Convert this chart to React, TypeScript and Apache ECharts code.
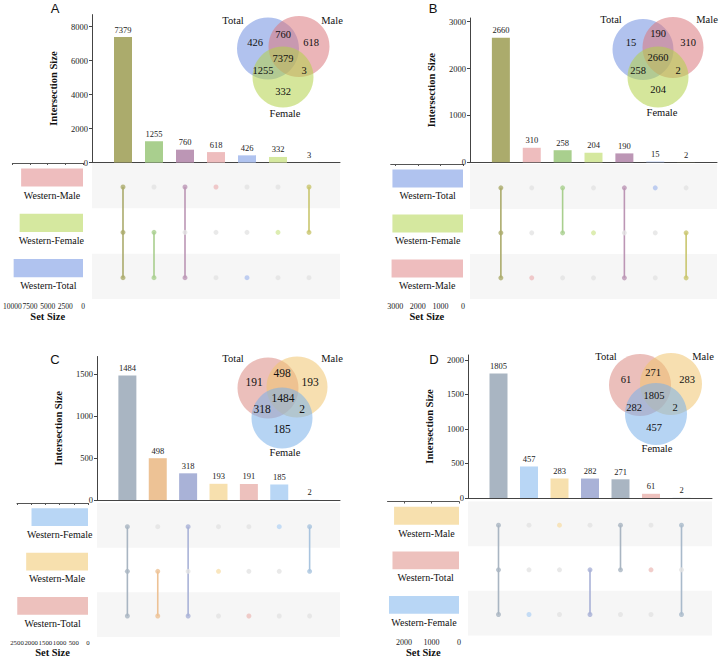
import React, { useEffect, useRef } from "react";
import * as echarts from "echarts";

// ---------------- Data ----------------
const setsA = ["Western-Male", "Western-Female", "Western-Total"];
const valuesA = [7379, 1255, 760, 618, 426, 332, 3];
const membersA = [[0, 1, 2], [1, 2], [0, 2], [0], [2], [1], [0, 1]];
const barTicksA = [0, 2000, 4000, 6000, 8000];
const setTicksA = [0, 2500, 5000, 7500, 10000];

const setsB = ["Western-Total", "Western-Female", "Western-Male"];
const valuesB = [2660, 310, 258, 204, 190, 15, 2];
const membersB = [[0, 1, 2], [2], [0, 1], [1], [0, 2], [0], [1, 2]];
const barTicksB = [0, 1000, 2000, 3000];
const setTicksB = [0, 1000, 2000, 3000];

const setsC = ["Western-Female", "Western-Male", "Western-Total"];
const valuesC = [1484, 498, 318, 193, 191, 185, 2];
const membersC = [[0, 1, 2], [1, 2], [0, 2], [1], [2], [0], [0, 1]];
const barTicksC = [0, 500, 1000, 1500];
const setTicksC = [0, 500, 1000, 1500, 2000, 2500];

const setsD = ["Western-Male", "Western-Total", "Western-Female"];
const valuesD = [1805, 457, 283, 282, 271, 61, 2];
const membersD = [[0, 1, 2], [2], [0], [1, 2], [0, 1], [1], [0, 2]];
const barTicksD = [0, 500, 1000, 1500, 2000];
const setTicksD = [0, 1000, 2000];

// ---------------- Styles ----------------
const colorsA = ["#abab6c", "#a9cf8e", "#bc96b5", "#eebdbe", "#b0c3ef", "#d5e89f", "#c9c66e"];
const setColorsA = ["#eebdbe", "#d5e89f", "#b0c3ef"];
const colorsB = ["#abab6c", "#eebdbe", "#a9cf8e", "#d5e89f", "#bc96b5", "#b0c3ef", "#c9c66e"];
const setColorsB = ["#b0c3ef", "#d5e89f", "#eebdbe"];
const colorsC = ["#a9b5c2", "#edc295", "#a9b2d7", "#f7e0ae", "#edc1bd", "#b8d6f5", "#a9c4df"];
const setColorsC = ["#b8d6f5", "#f7e0ae", "#edc1bd"];
const colorsD = ["#a9b5c2", "#b8d6f5", "#f7e0ae", "#a9b2d7", "#a9b5c2", "#edc1bd", "#a9bacb"];
const setColorsD = ["#f7e0ae", "#edc1bd", "#b8d6f5"];

const vennFillAB: Record<string, string> = {
  Total: "rgba(113,144,224,0.55)",
  Male: "rgba(219,120,126,0.55)",
  Female: "rgba(179,210,73,0.55)",
};
const vennFillCD: Record<string, string> = {
  Total: "rgba(219,139,131,0.55)",
  Male: "rgba(241,197,111,0.55)",
  Female: "rgba(122,177,233,0.55)",
};

const SERIF = '"Liberation Serif", "DejaVu Serif", serif';
const SANS = '"Liberation Sans", Arial, sans-serif';

const panels = [
  { sets: setsA, values: valuesA, members: membersA, colors: colorsA, setColors: setColorsA, barTicks: barTicksA, setTicks: setTicksA },
  { sets: setsB, values: valuesB, members: membersB, colors: colorsB, setColors: setColorsB, barTicks: barTicksB, setTicks: setTicksB },
  { sets: setsC, values: valuesC, members: membersC, colors: colorsC, setColors: setColorsC, barTicks: barTicksC, setTicks: setTicksC },
  { sets: setsD, values: valuesD, members: membersD, colors: colorsD, setColors: setColorsD, barTicks: barTicksD, setTicks: setTicksD },
];

// ---------------- Layout ----------------
const layouts = [
  {
    letter: "A", lx: 55, ly: 8,
    bar: { left: 92, top: 14.6, width: 248, height: 148 }, barMax: 8700,
    mat: { left: 92, top: 163, width: 248, height: 136 },
    set: { left: 10, top: 163, width: 73, height: 136 }, setMax: 10000, setFont: 7.5, setGap: 9,
    fills: vennFillAB, vennFont: 10.5,
    circles: { Total: [268, 48.5, 31], Male: [299, 46.5, 30.5], Female: [283, 77, 30.5] },
    labels: { Total: [233, 20], Male: [332, 20], Female: [285, 113] },
    regions: {
      Total: [255, 42], "Male&Total": [283, 34], Male: [311, 42], "Female&Male&Total": [283, 58],
      "Female&Total": [263, 70], "Female&Male": [304, 70], Female: [283, 91],
    },
  },
  {
    letter: "B", lx: 433, ly: 8,
    bar: { left: 470, top: 18, width: 247, height: 144.3 }, barMax: 3080,
    mat: { left: 470, top: 164, width: 247, height: 135 },
    set: { left: 390.7, top: 164, width: 72.3, height: 135 }, setMax: 3200, setFont: 8, setGap: 10,
    fills: vennFillAB, vennFont: 10.5,
    circles: { Total: [643, 49.5, 30.5], Male: [673, 47.5, 30.5], Female: [658, 77, 30.5] },
    labels: { Total: [611, 19], Male: [707, 19], Female: [662, 112] },
    regions: {
      Total: [631, 42], "Male&Total": [658, 33], Male: [688, 42], "Female&Male&Total": [658, 57],
      "Female&Total": [638, 70], "Female&Male": [678, 70], Female: [658, 89],
    },
  },
  {
    letter: "C", lx: 55, ly: 359,
    bar: { left: 97, top: 356.5, width: 243, height: 143.5 }, barMax: 1710,
    mat: { left: 97, top: 503, width: 243, height: 134 },
    set: { left: 17, top: 503, width: 71, height: 134 }, setMax: 2500, setFont: 6.8, setGap: 10,
    fills: vennFillCD, vennFont: 11.5,
    circles: { Total: [268, 388, 30.5], Male: [297, 387, 30.5], Female: [282, 418, 30.5] },
    labels: { Total: [233, 358], Male: [332, 358], Female: [285, 452] },
    regions: {
      Total: [254, 382], "Male&Total": [282, 373], Male: [310, 382], "Female&Male&Total": [283, 398],
      "Female&Total": [262, 409], "Female&Male": [302, 409], Female: [282, 429],
    },
  },
  {
    letter: "D", lx: 434, ly: 359,
    bar: { left: 468, top: 355, width: 244, height: 143 }, barMax: 2072,
    mat: { left: 468, top: 501.5, width: 244, height: 134 },
    set: { left: 387.5, top: 501.5, width: 71.5, height: 134 }, setMax: 2600, setFont: 8, setGap: 11,
    fills: vennFillCD, vennFont: 10.5,
    circles: { Total: [640, 385, 31], Male: [671, 384, 31], Female: [656, 414, 31] },
    labels: { Total: [606, 356], Male: [703, 356], Female: [657, 448] },
    regions: {
      Total: [626, 379], "Male&Total": [653, 372], Male: [687, 379], "Female&Male&Total": [654, 395],
      "Female&Total": [634, 407], "Female&Male": [675, 407], Female: [654, 427],
    },
  },
];

const shortName = (s: string) => s.replace("Western-", "");
const plain = (v: any) => String(v);

function buildOption() {
  const grid: any[] = [];
  const xAxis: any[] = [];
  const yAxis: any[] = [];
  const series: any[] = [];
  const graphic: any[] = [];

  panels.forEach((p, pi) => {
    const L = layouts[pi];
    const nCols = p.values.length + 1;
    const bi = pi * 3, mi = pi * 3 + 1, si = pi * 3 + 2;

    grid[bi] = { ...L.bar };
    grid[mi] = { ...L.mat };
    grid[si] = { ...L.set };

    // bar grid axes
    xAxis[bi] = {
      gridIndex: bi, type: "value", min: 0, max: nCols,
      axisLine: { show: true, lineStyle: { color: "#444", width: 1 } },
      axisTick: { show: false }, axisLabel: { show: false }, splitLine: { show: false },
    };
    yAxis[bi] = {
      gridIndex: bi, type: "value", min: 0, max: L.barMax,
      axisLine: { show: true, lineStyle: { color: "#444", width: 1 } },
      axisTick: { show: true, length: 3, customValues: p.barTicks, lineStyle: { color: "#444" } },
      axisLabel: {
        customValues: p.barTicks, formatter: plain, hideOverlap: false,
        fontSize: 8.5, fontFamily: SERIF, color: "#222", margin: 4,
      },
      splitLine: { show: false },
      name: "Intersection Size", nameLocation: "middle", nameGap: 33,
      nameTextStyle: { fontFamily: SERIF, fontWeight: "bold", fontSize: 10.5, color: "#111" },
    };
    // matrix axes
    xAxis[mi] = { gridIndex: mi, type: "value", min: 0, max: nCols, show: false };
    yAxis[mi] = { gridIndex: mi, type: "value", min: 0, max: p.sets.length, inverse: true, show: false };
    // set size axes
    xAxis[si] = {
      gridIndex: si, type: "value", min: 0, max: L.setMax, inverse: true,
      axisLine: { show: true, lineStyle: { color: "#555", width: 1 } },
      axisTick: { show: true, length: 2, customValues: p.setTicks, lineStyle: { color: "#555" } },
      axisLabel: {
        customValues: p.setTicks, formatter: plain, hideOverlap: false,
        fontSize: L.setFont, fontFamily: SERIF, color: "#222", margin: 3,
      },
      splitLine: { show: false },
      name: "Set Size", nameLocation: "middle", nameGap: L.setGap,
      nameTextStyle: { fontFamily: SERIF, fontWeight: "bold", fontSize: 10.5, color: "#111" },
    };
    yAxis[si] = { gridIndex: si, type: "value", min: 0, max: p.sets.length, inverse: true, show: false };

    // intersection bars
    series.push({
      type: "bar", xAxisIndex: bi, yAxisIndex: bi, barWidth: 18,
      data: p.values.map((v, i) => ({ value: [i + 1, v], itemStyle: { color: p.colors[i] } })),
      label: {
        show: true, position: "top", distance: 3, fontSize: 8.5, fontFamily: SERIF, color: "#222",
        formatter: (d: any) => String(d.value[1]),
      },
    });

    // matrix bands
    series.push({
      type: "custom", xAxisIndex: mi, yAxisIndex: mi, z: 1,
      data: p.sets.map((_, r) => [r]).filter((d) => d[0] % 2 === 0),
      renderItem: (params: any, api: any) => {
        const r = api.value(0);
        const a = api.coord([0, r]);
        const b = api.coord([nCols, r + 1]);
        return {
          type: "rect",
          shape: { x: a[0], y: a[1], width: b[0] - a[0], height: b[1] - a[1] },
          style: { fill: "#f6f6f6" },
        };
      },
    });

    // connecting lines
    const lineData = p.members
      .map((m, i) => [i + 1, Math.min(...m), Math.max(...m), i])
      .filter((d) => d[1] !== d[2]);
    series.push({
      type: "custom", xAxisIndex: mi, yAxisIndex: mi, z: 2,
      data: lineData,
      renderItem: (params: any, api: any) => {
        const x = api.value(0);
        const a = api.coord([x, api.value(1) + 0.53]);
        const b = api.coord([x, api.value(2) + 0.53]);
        return {
          type: "line",
          shape: { x1: a[0], y1: a[1], x2: b[0], y2: b[1] },
          style: { stroke: p.colors[api.value(3)], lineWidth: 1.6 },
        };
      },
    });

    // dots
    const dots: any[] = [];
    p.values.forEach((_, i) => {
      p.sets.forEach((_s, r) => {
        const on = p.members[i].includes(r);
        dots.push({ value: [i + 1, r + 0.53], itemStyle: { color: on ? p.colors[i] : "#e3e3e3" } });
      });
    });
    series.push({
      type: "scatter", xAxisIndex: mi, yAxisIndex: mi, z: 3, symbolSize: 5, data: dots,
    });

    // set size bars + names
    const setSizes = p.sets.map((_, r) =>
      p.values.reduce((acc, v, i) => acc + (p.members[i].includes(r) ? v : 0), 0)
    );
    series.push({
      type: "custom", xAxisIndex: si, yAxisIndex: si, z: 2,
      data: setSizes.map((v, r) => [v, r]),
      renderItem: (params: any, api: any) => {
        const v = api.value(0);
        const r = api.value(1);
        const a = api.coord([0, r + 0.12]);
        const b = api.coord([v, r + 0.52]);
        const t = api.coord([0, r + 0.71]);
        return {
          type: "group",
          children: [
            {
              type: "rect",
              shape: { x: b[0], y: a[1], width: a[0] - b[0], height: b[1] - a[1] },
              style: { fill: p.setColors[r] },
            },
            {
              type: "text",
              x: (a[0] + b[0]) / 2, y: t[1],
              style: {
                text: p.sets[r], align: "center", verticalAlign: "middle",
                fontSize: 10, fontFamily: SERIF, fill: "#111",
              },
            },
          ],
        };
      },
    });

    // panel letter
    graphic.push({
      type: "text", x: L.lx, y: L.ly, silent: true,
      style: { text: L.letter, align: "center", verticalAlign: "middle", fontSize: 13, fontFamily: SANS, fill: "#111" },
    });

    // venn diagram
    ["Total", "Male", "Female"].forEach((k) => {
      const c = (L.circles as any)[k];
      graphic.push({
        type: "circle", silent: true, z: 10,
        shape: { cx: c[0], cy: c[1], r: c[2] },
        style: { fill: L.fills[k] },
      });
      const lp = (L.labels as any)[k];
      graphic.push({
        type: "text", x: lp[0], y: lp[1], silent: true, z: 11,
        style: { text: k, align: "center", verticalAlign: "middle", fontSize: 10.5, fontFamily: SERIF, fill: "#111" },
      });
    });
    p.values.forEach((v, i) => {
      const key = p.members[i].map((r) => shortName(p.sets[r])).sort().join("&");
      const pos = (L.regions as any)[key];
      if (!pos) return;
      graphic.push({
        type: "text", x: pos[0], y: pos[1], silent: true, z: 12,
        style: { text: String(v), align: "center", verticalAlign: "middle", fontSize: L.vennFont, fontFamily: SERIF, fill: "#111" },
      });
    });
  });

  return { animation: false, backgroundColor: "#ffffff", grid, xAxis, yAxis, series, graphic };
}

export default function App() {
  const ref = useRef<HTMLDivElement>(null);
  useEffect(() => {
    if (!ref.current) return;
    const chart = echarts.init(ref.current, undefined, { renderer: "svg" });
    chart.setOption(buildOption() as any);
    return () => chart.dispose();
  }, []);
  return (
    <div
      ref={ref}
      style={{ position: "absolute", left: 0, top: 0, width: 720, height: 659, background: "#fff" }}
    />
  );
}
